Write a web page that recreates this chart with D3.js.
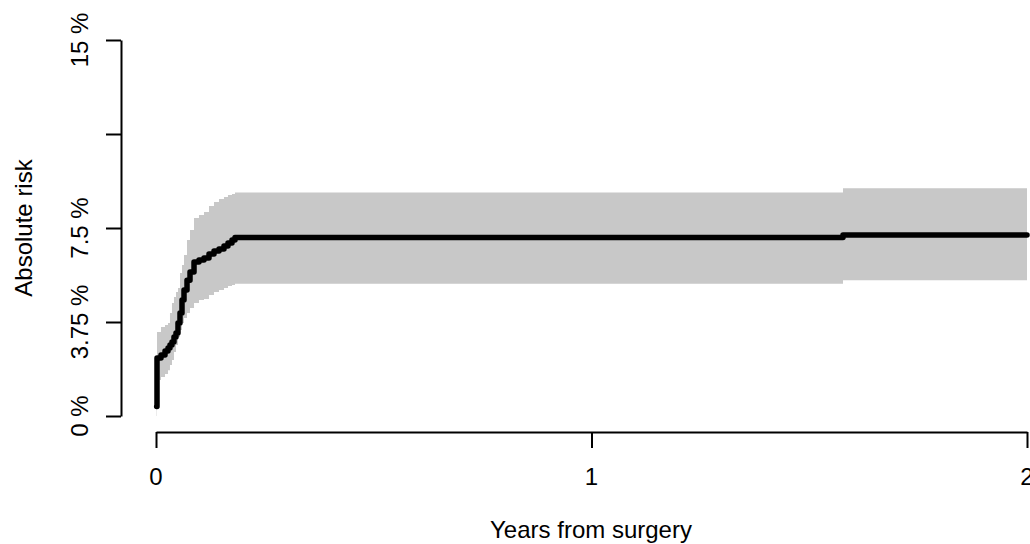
<!DOCTYPE html>
<html>
<head>
<meta charset="utf-8">
<script src="https://cdn.jsdelivr.net/npm/d3@7"></script>
<style>
  body { margin: 0; background: #fff; }
  svg { display: block; font-family: "Liberation Sans", Arial, sans-serif; }
</style>
</head>
<body>
<div id="chart"></div>
<script>
// step times (years) and absolute risk estimates (%) with confidence band
const years = [0.0015, 0.0023, 0.0115, 0.0207, 0.0276, 0.0321, 0.0367, 0.0413, 0.0459, 0.0505,
  0.0551, 0.0597, 0.0643, 0.0712, 0.0781, 0.0873, 0.0987, 0.1102, 0.1217, 0.1332,
  0.1447, 0.1561, 0.1653, 0.1745, 0.1814, 1.5775, 2.0];
const risk = [0.38, 2.31, 2.43, 2.59, 2.71, 2.83, 2.95, 3.15, 3.31, 3.71,
  4.11, 4.63, 5.03, 5.42, 5.74, 6.14, 6.22, 6.30, 6.46, 6.58,
  6.66, 6.78, 6.90, 7.02, 7.12, 7.22, 7.22];
const lower = [0.0, 1.44, 1.56, 1.68, 1.83, 2.03, 2.23, 2.55, 2.83, 3.15,
  3.43, 3.71, 3.91, 4.11, 4.31, 4.51, 4.63, 4.67, 4.83, 4.95,
  5.03, 5.11, 5.19, 5.23, 5.28, 5.42, 5.42];
const upper = [0.9, 3.35, 3.55, 3.63, 3.71, 4.11, 4.51, 4.75, 4.95, 5.11,
  5.70, 6.02, 6.42, 7.02, 7.42, 7.90, 8.02, 8.14, 8.38, 8.54,
  8.66, 8.74, 8.82, 8.86, 8.92, 9.09, 9.09];

const xTicks = [0, 1, 2];
const xTickLabels = ["0", "1", "2"];
const yTicks = [0, 3.75, 7.5, 11.25, 15];
const yTickLabels = ["0 %", "3.75 %", "7.5 %", "", "15 %"];

const width = 1030, height = 544;

const svg = d3.select("#chart")
  .append("svg")
    .attr("width", width)
    .attr("height", height);

const x = d3.scaleLinear().domain([0, 2]).range([156, 1027]);
const y = d3.scaleLinear().domain([0, 15]).range([416, 40]);

const pts = years.map((t, i) => ({t: t, r: risk[i], lo: lower[i], hi: upper[i]}));

// confidence band
const band = d3.area()
  .curve(d3.curveStepAfter)
  .x(d => x(d.t))
  .y0(d => y(d.lo))
  .y1(d => y(d.hi));
svg.append("path")
  .datum(pts)
  .attr("d", band)
  .attr("fill", "#c8c8c8");

// risk curve
const line = d3.line()
  .curve(d3.curveStepAfter)
  .x(d => x(d.t))
  .y(d => y(d.r));
svg.append("path")
  .datum(pts)
  .attr("d", line)
  .attr("fill", "none")
  .attr("stroke", "#000")
  .attr("stroke-width", 5.5)
  .attr("stroke-linejoin", "round")
  .attr("stroke-linecap", "round");

// y axis
const yAxis = svg.append("g")
  .attr("transform", "translate(121,0)")
  .call(d3.axisLeft(y).tickValues(yTicks).tickSize(15).tickSizeOuter(0).tickFormat(""));
yAxis.selectAll("path, line").attr("stroke", "#000").attr("stroke-width", 2);

svg.selectAll(".ylab")
  .data(yTicks)
  .enter()
  .append("text")
    .attr("transform", (d, i) => `translate(88, ${y(d)}) rotate(-90)`)
    .attr("text-anchor", "middle")
    .style("font-size", "24px")
    .text((d, i) => yTickLabels[i]);

// x axis
const xAxis = svg.append("g")
  .attr("transform", "translate(0,432)")
  .call(d3.axisBottom(x).tickValues(xTicks).tickSize(16).tickSizeOuter(0).tickFormat(""));
xAxis.selectAll("path, line").attr("stroke", "#000").attr("stroke-width", 2);

svg.selectAll(".xlab")
  .data(xTicks)
  .enter()
  .append("text")
    .attr("x", d => x(d))
    .attr("y", 485)
    .attr("text-anchor", "middle")
    .style("font-size", "24px")
    .text((d, i) => xTickLabels[i]);

// axis titles
svg.append("text")
  .attr("x", 591)
  .attr("y", 538)
  .attr("text-anchor", "middle")
  .style("font-size", "24px")
  .text("Years from surgery");

svg.append("text")
  .attr("transform", "translate(32,228) rotate(-90)")
  .attr("text-anchor", "middle")
  .style("font-size", "24px")
  .text("Absolute risk");
</script>
</body>
</html>
